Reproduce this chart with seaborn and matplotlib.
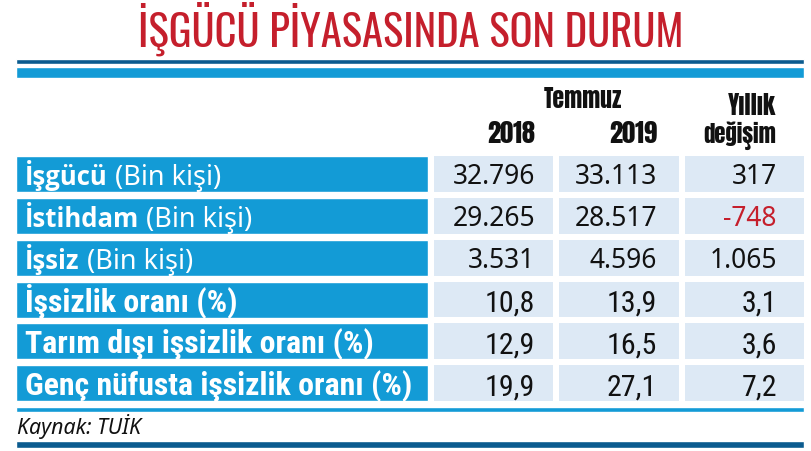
import matplotlib
matplotlib.use("Agg")
import matplotlib.pyplot as plt
from matplotlib.colors import ListedColormap
import pandas as pd
import seaborn as sns

# Data (Temmuz 2018 / 2019, TÜİK)
rows = ["İşgücü", "İstihdam", "İşsiz", "İşsizlik oranı (%)",
        "Tarım dışı işsizlik oranı (%)", "Genç nüfusta işsizlik oranı (%)"]
units = [" (Bin kişi)", " (Bin kişi)", " (Bin kişi)", "", "", ""]
jul_2018 = [32796, 29265, 3531, 10.8, 12.9, 19.9]
jul_2019 = [33113, 28517, 4596, 13.9, 16.5, 27.1]
yearly_change = [317, -748, 1065, 3.1, 3.6, 7.2]
col_labels = ["2018", "2019"]
month_label = "Temmuz"
change_label = ["Yıllık", "değişim"]
title = "İŞGÜCÜ PİYASASINDA SON DURUM"
source = "Kaynak: TUİK"

RED = "#c51f2c"
CYAN = "#139bd6"
DARK = "#0b5b8f"
CELL = "#dde9f5"
INK = "#111111"
TITLE_F = ["Oswald", "Roboto Condensed", "Barlow Condensed", "DejaVu Sans"]
HEAD_F = ["Anton", "Oswald", "Roboto Condensed", "DejaVu Sans"]
COND_F = ["Roboto Condensed", "Open Sans Condensed", "Asap Condensed",
          "Barlow Semi Condensed", "DejaVu Sans"]
BOLD_F = ["Open Sans", "Lato", "Noto Sans", "DejaVu Sans"]


def tr_fmt(v):
    # turkish style: 32.796 and 10,8
    if isinstance(v, int):
        return f"{v:,}".replace(",", ".")
    return f"{v:.1f}".replace(".", ",")


sns.set_theme(style="white")
plt.rcParams["font.family"] = ["Noto Sans", "DejaVu Sans"]

W, H = 811, 452
fig = plt.figure(figsize=(W / 100, H / 100), dpi=100)
renderer = fig.canvas.get_renderer()


def width_of(t):
    return t.get_window_extent(renderer).width


def fit(t, target):
    # scale font size so the text spans the target width in pixels
    t.set_fontsize(t.get_fontsize() * target / width_of(t))
    return t


# value cells as a flat-coloured heatmap
hx0, hx1, hy0, hy1 = 431, 807, 154, 405
hax = fig.add_axes([hx0 / W, 1 - hy1 / H, (hx1 - hx0) / W, (hy1 - hy0) / H])
df = pd.DataFrame({"2018": jul_2018, "2019": jul_2019, "change": yearly_change}, index=rows)
sns.heatmap(df.astype(float), ax=hax, cmap=ListedColormap([CELL]), cbar=False,
            linewidths=6 * 0.72, linecolor="white", xticklabels=False, yticklabels=False)
hax.axis("off")

# main canvas in pixel coordinates
ax = fig.add_axes([0, 0, 1, 1])
ax.set_zorder(3)
ax.patch.set_alpha(0)
ax.set_xlim(0, W)
ax.set_ylim(H, 0)
ax.axis("off")

pitch = (hy1 - hy0) / len(rows)
tops = [hy0 + 3 + pitch * i for i in range(len(rows))]
centers = [t + 18 for t in tops]

# label boxes
ax.barh(centers, 412, left=16, height=36, color=CYAN)

# rules
ax.barh([62.7], 788, left=16, height=5.5, color=DARK)
ax.barh([73.7], 788, left=16, height=10.5, color=CYAN)
ax.barh([410.7], 788, left=16, height=5.5, color=CYAN)
ax.barh([445.5], 788, left=16, height=7, color=DARK)

fit(ax.text(410.5, 47, title, ha="center", va="baseline", color=RED,
            fontsize=30, family=TITLE_F), 546)

# header
fit(ax.text(583, 108, month_label, ha="center", va="baseline", fontsize=18,
            family=HEAD_F, color=INK), 78)
for x, lab in zip([535, 657], col_labels):
    fit(ax.text(x, 143, lab, ha="right", va="baseline", fontsize=21,
                family=HEAD_F, color=INK), 48)
fit(ax.text(776, 115, change_label[0], ha="right", va="baseline", fontsize=18,
            family=HEAD_F, color=INK), 48)
fit(ax.text(776, 143, change_label[1], ha="right", va="baseline", fontsize=19,
            family=HEAD_F, color=INK), 73)

# size for the condensed rows, from the longest label and a value
probe = ax.text(0, 0, rows[-1], fontsize=20, fontweight="bold", family=COND_F)
lab_size = 20 * 388 / width_of(probe)
probe.remove()
probe = ax.text(0, 0, tr_fmt(jul_2018[-1]), fontsize=20, family=COND_F)
val_size = 20 * 50 / width_of(probe)
probe.remove()

for top, name, unit, a, b, c in zip(tops, rows, units, jul_2018, jul_2019, yearly_change):
    if unit:
        t = ax.text(25, top + 28, name, ha="left", va="baseline", color="white",
                    fontsize=18.5, fontweight="bold", family=BOLD_F)
        w = width_of(t)
        ax.text(25 + w, top + 28, unit, ha="left", va="baseline", color="white",
                fontsize=19.5)
        vkw = dict(fontsize=19)
        base = top + 27.5
    else:
        ax.text(25, top + 29, name, ha="left", va="baseline", color="white",
                fontsize=lab_size, fontweight="bold", family=COND_F)
        vkw = dict(fontsize=val_size, family=COND_F)
        base = top + 29
    for x, v in zip([535, 657, 777], [a, b, c]):
        col = RED if v < 0 else INK
        ax.text(x, base, tr_fmt(v), ha="right", va="baseline", color=col, **vkw)

fit(ax.text(17, 434, source, ha="left", va="baseline", fontsize=13,
            style="italic", color=INK), 124)

fig.savefig("out.png", dpi=100)
